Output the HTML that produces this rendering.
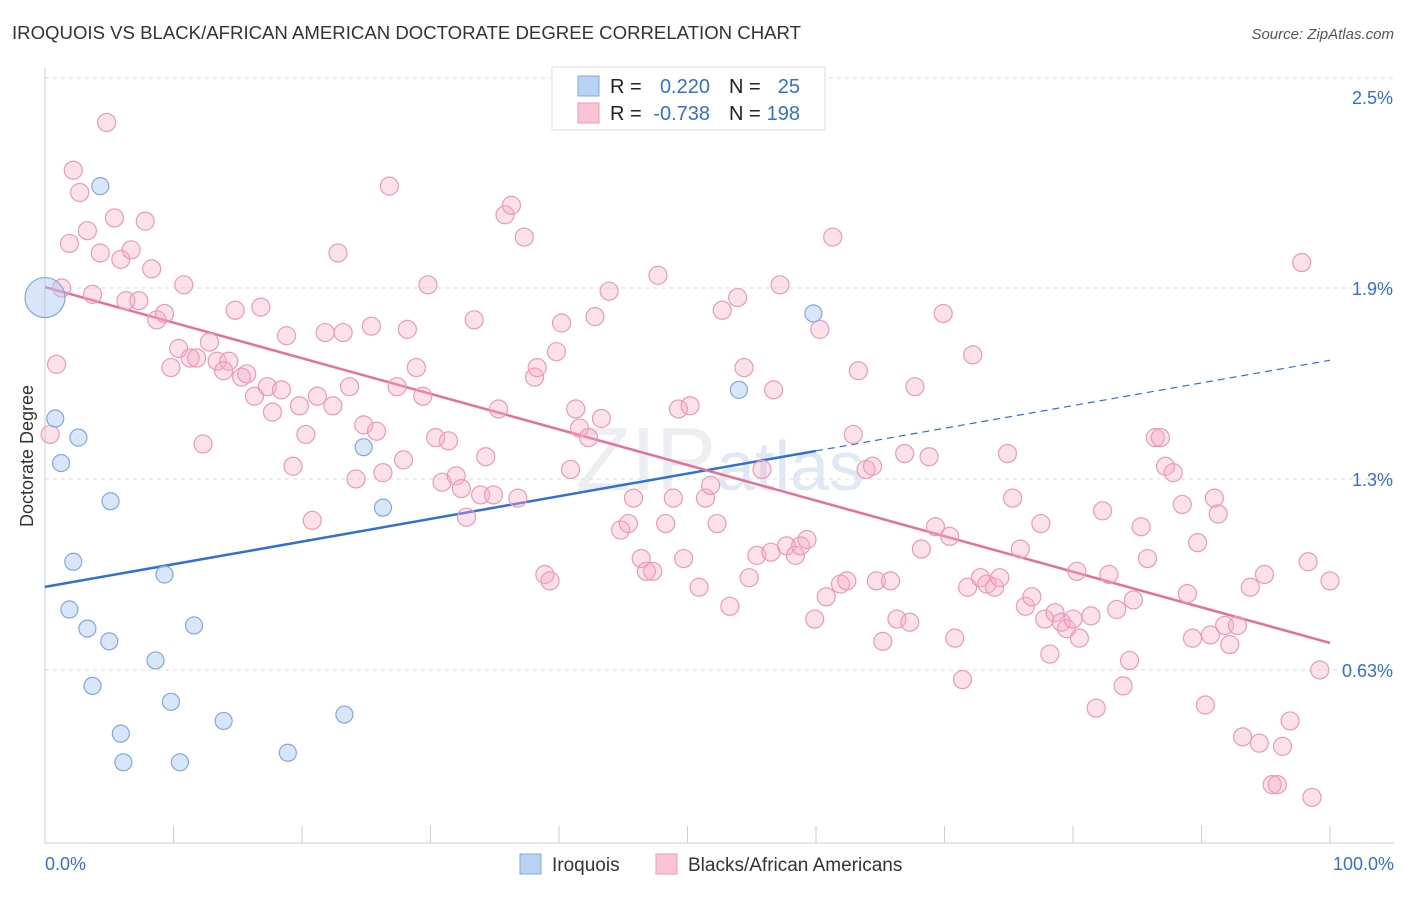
<!DOCTYPE html>
<html><head><meta charset="utf-8">
<style>
body{margin:0;background:#fff;font-family:"Liberation Sans",sans-serif;}
svg text{font-family:"Liberation Sans",sans-serif;}
</style></head>
<body>
<svg id="chart" width="1406" height="892" viewBox="0 0 1406 892" xmlns="http://www.w3.org/2000/svg">
<text x="12" y="39" font-size="18.6" fill="#333">IROQUOIS VS BLACK/AFRICAN AMERICAN DOCTORATE DEGREE CORRELATION CHART</text>
<text x="1394" y="39" font-size="15" fill="#555" text-anchor="end" font-style="italic">Source: ZipAtlas.com</text>
<text x="720" y="490" font-size="90" fill="#eceef2" text-anchor="middle" font-family="Liberation Serif">ZIP<tspan fill="#dfe8f4" font-family="Liberation Sans" font-size="70">atlas</tspan></text>
<g id="grid"></g>
<g id="axes"></g>
<g id="lines"></g>
<g id="pts"></g>
<text transform="translate(33,456) rotate(-90)" font-size="18" fill="#333" text-anchor="middle">Doctorate Degree</text>
<g>
<rect x="552" y="67" width="273" height="63" fill="#fff" stroke="#ddd"/>
<rect x="578" y="76" width="21" height="20" fill="#b8d2f4" stroke="#7fa9e0"/>
<rect x="578" y="103" width="21" height="20" fill="#f9c3d4" stroke="#ec9bb6"/>
<text x="610" y="93" font-size="20" fill="#222">R =</text>
<text x="710" y="93" font-size="20" fill="#3470d0" text-anchor="end">0.220</text>
<text x="729" y="93" font-size="20" fill="#222">N =</text>
<text x="800" y="93" font-size="20" fill="#3470d0" text-anchor="end">25</text>
<text x="610" y="120" font-size="20" fill="#222">R =</text>
<text x="710" y="120" font-size="20" fill="#3470d0" text-anchor="end">-0.738</text>
<text x="729" y="120" font-size="20" fill="#222">N =</text>
<text x="800" y="120" font-size="20" fill="#3470d0" text-anchor="end">198</text>
</g>
<g>
<rect x="520" y="854" width="21" height="20" fill="#b8d2f4" stroke="#7fa9e0"/>
<text x="552" y="871" font-size="19" fill="#333">Iroquois</text>
<rect x="656" y="854" width="21" height="20" fill="#f9c3d4" stroke="#ec9bb6"/>
<text x="688" y="871" font-size="19" fill="#333">Blacks/African Americans</text>
</g>
</svg>
<script>
const yTicks=[2.5,1.9,1.3,0.7];
const yTickLabels=["2.5%","1.9%","1.3%","0.63%"];
const xTicks=[0,10,20,30,40,50,60,70,80,90,100];
const xTickLabels=["0.0%","100.0%"];
const blueX=[0,0.8,1.25,2.6,4.3,2.2,5.1,1.9,3.3,5.0,3.7,9.3,8.6,11.6,9.8,5.9,6.1,10.5,13.9,18.9,23.3,24.8,26.3,54.0,59.8];
const blueY=[1.87,1.49,1.35,1.43,2.22,1.04,1.23,0.89,0.83,0.79,0.65,1.0,0.73,0.84,0.6,0.50,0.41,0.41,0.54,0.44,0.56,1.40,1.21,1.58,1.82];
const pinkX=[0.4,0.9,1.3,2.2,2.7,1.9,3.3,3.7,4.8,5.4,4.3,5.9,6.7,7.8,8.3,6.3,7.3,8.7,9.3,10.8,9.8,10.4,11.3,11.8,12.8,13.4,14.3,13.9,15.3,15.7,14.8,16.8,12.3,16.3,17.3,18.4,17.7,19.8,18.8,21.2,22.4,20.3,19.3,20.8,21.8,23.2,22.8,23.7,25.4,24.8,25.8,24.2,26.3,26.8,27.4,27.9,28.2,28.9,29.4,29.8,30.4,31.4,30.9,32.0,32.4,32.8,33.4,33.9,34.3,34.9,35.3,35.8,36.3,36.8,37.3,38.1,38.3,39.8,40.2,38.9,39.3,40.9,41.3,41.6,42.3,43.3,42.8,43.9,44.8,45.4,45.8,46.4,46.8,47.3,47.7,48.3,48.9,49.7,49.3,50.2,50.9,51.4,51.8,52.3,52.7,53.3,53.9,54.4,54.8,55.4,55.8,56.5,56.7,57.2,57.7,58.4,58.8,59.3,59.9,60.3,60.8,61.3,61.9,62.4,62.9,63.3,63.9,64.4,64.7,65.2,65.8,66.3,66.9,67.3,67.7,68.2,68.8,69.3,69.9,70.4,70.8,71.4,71.8,72.2,72.8,73.3,73.9,74.3,74.9,75.3,75.9,76.3,76.8,77.5,77.8,78.2,78.6,79.1,79.5,80.0,80.5,80.3,81.4,81.8,82.3,82.8,83.4,83.9,84.4,84.7,85.3,85.8,86.4,86.8,87.2,87.8,88.5,88.9,89.3,89.7,90.3,90.7,91.0,91.3,91.8,92.2,92.8,93.2,93.8,94.5,94.9,95.5,95.9,96.3,96.9,97.8,98.3,98.6,99.2,100];
const pinkY=[1.44,1.66,1.90,2.27,2.20,2.04,2.08,1.88,2.42,2.12,2.01,1.99,2.02,2.11,1.96,1.86,1.86,1.80,1.82,1.91,1.65,1.71,1.68,1.68,1.73,1.67,1.67,1.64,1.62,1.63,1.83,1.84,1.41,1.56,1.59,1.58,1.51,1.53,1.75,1.56,1.53,1.44,1.34,1.17,1.76,1.76,2.01,1.59,1.78,1.47,1.45,1.30,1.32,2.22,1.59,1.36,1.77,1.65,1.56,1.91,1.43,1.42,1.29,1.31,1.27,1.18,1.80,1.25,1.37,1.25,1.52,2.13,2.16,1.24,2.06,1.62,1.65,1.70,1.79,1.00,0.98,1.33,1.52,1.46,1.43,1.49,1.81,1.89,1.14,1.16,1.24,1.05,1.01,1.01,1.94,1.16,1.24,1.05,1.52,1.53,0.96,1.24,1.28,1.16,1.83,0.90,1.87,1.65,0.99,1.06,1.33,1.07,1.58,1.91,1.09,1.06,1.09,1.11,0.86,1.77,0.93,2.06,0.97,0.98,1.44,1.64,1.33,1.34,0.98,0.79,0.98,0.86,1.38,0.85,1.59,1.08,1.37,1.15,1.82,1.12,0.80,0.67,0.96,1.69,0.99,0.97,0.96,0.99,1.38,1.24,1.08,0.90,0.93,1.16,0.86,0.75,0.88,0.85,0.83,0.86,0.80,1.01,0.87,0.58,1.20,1.00,0.89,0.65,0.73,0.92,1.15,1.05,1.43,1.43,1.34,1.32,1.22,0.94,0.80,1.10,0.59,0.81,1.24,1.19,0.84,0.78,0.84,0.49,0.96,0.47,1.00,0.34,0.34,0.46,0.54,1.98,1.04,0.30,0.70,0.98];
const blueTrend=[0.961,1.673];
const pinkTrend=[1.903,0.785];

const NS="http://www.w3.org/2000/svg";
const X0=45,X1=1330,YTOP=97,PXPER=318.33;
function sx(v){return X0+(X1-X0)*v/100;}
function sy(v){return YTOP+(2.5-v)*PXPER;}
function mk(tag,attrs,parent){const e=document.createElementNS(NS,tag);for(const k in attrs)e.setAttribute(k,attrs[k]);parent.appendChild(e);return e;}
const grid=document.getElementById('grid'),axes=document.getElementById('axes'),lines=document.getElementById('lines'),pts=document.getElementById('pts');
let g=mk('line',{x1:X0,x2:1394,y1:78,y2:78,stroke:'#ddd','stroke-dasharray':'4,4'},grid);


yTicks.forEach((t,i)=>{
  if(i>0){const l=mk('line',{x1:X0,x2:1394,y1:sy(t),y2:sy(t),stroke:'#ddd','stroke-dasharray':'4,4'},grid);
  
  }
  const tx=mk('text',{x:1393,y:sy(t)+7,'font-size':18,fill:'#3470d0','text-anchor':'end'},axes);
  
  
  tx.textContent=yTickLabels[i];
});
let ax=mk('line',{x1:X0,x2:X0,y1:68,y2:843,stroke:'#ccc'},axes);


let bx=mk('line',{x1:X0,x2:1394,y1:843,y2:843,stroke:'#ccc'},axes);


xTicks.forEach(t=>{const l=mk('line',{x1:sx(t),x2:sx(t),y1:826,y2:843,stroke:'#ccc'},axes);
  
  });
let xl=mk('text',{x:45,y:870,'font-size':18,fill:'#3470d0'},axes);


xl.textContent=xTickLabels[0];
let xr=mk('text',{x:1394,y:870,'font-size':18,fill:'#3470d0','text-anchor':'end'},axes);


xr.textContent=xTickLabels[1];

pinkX.forEach((x,i)=>{const c=mk('circle',{cx:sx(x),cy:sy(pinkY[i]),r:9,fill:'rgba(246,170,198,0.35)',stroke:'#eb9ab7','stroke-width':1.2},pts);
  
  });
blueX.forEach((x,i)=>{const c=mk('circle',{cx:sx(x),cy:sy(blueY[i]),r:i===0?20:8.5,fill:'rgba(170,200,242,0.45)',stroke:'#7fa9e0','stroke-width':1.2},pts);
  
  });

const bAt=x=>blueTrend[0]+(blueTrend[1]-blueTrend[0])*x/100;
let bl=mk('line',{x1:sx(0),y1:sy(bAt(0)),x2:sx(60),y2:sy(bAt(60)),stroke:'#2f6fd6','stroke-width':2.5},lines);


let bd=mk('line',{x1:sx(60),y1:sy(bAt(60)),x2:sx(100),y2:sy(bAt(100)),stroke:'#2f6fd6','stroke-width':1.2,'stroke-dasharray':'7,5'},lines);


let pl=mk('line',{x1:sx(0),y1:sy(pinkTrend[0]),x2:sx(100),y2:sy(pinkTrend[1]),stroke:'#e4709a','stroke-width':2.5},lines);


</script>
</body></html>
